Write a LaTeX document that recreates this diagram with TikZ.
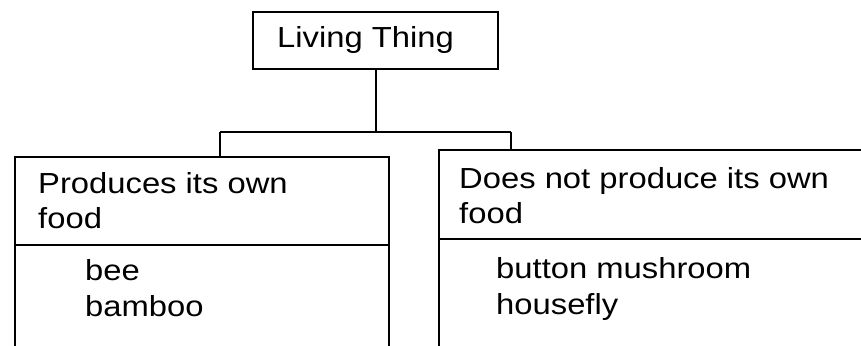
\documentclass[tikz,border=0pt]{standalone}
\usepackage{fontspec}
\setmainfont[FakeStretch=1.13]{Liberation Sans}
\begin{document}
\begin{tikzpicture}[x=1pt,y=-1pt,
  box/.style={draw, line width=1.6pt, rectangle, inner sep=0pt},
  link/.style={line width=1.6pt},
  txt/.style={inner sep=0pt, align=left, font=\fontsize{29}{35}\selectfont},
  items/.style={inner sep=0pt, align=left, font=\fontsize{29}{36}\selectfont}]
\useasboundingbox (0,0) rectangle (861,345);
\clip (0,0) rectangle (861,345);
% top
\node[box, anchor=north west, minimum width=245pt, minimum height=57pt] (top) at (252,11) {};
\node[txt, anchor=base west] (toptext) at (277,48) {Living Thing};
% left
\node[box, anchor=north west, minimum width=374pt, minimum height=88pt] (lhead) at (14,156) {};
\node[txt, anchor=base west] (lheadtext) at (38,228) {Produces its own\\food};
\node[box, anchor=north west, minimum width=374pt, minimum height=130pt] (llist) at (14,244) {};
\node[items, anchor=base west] (llisttext) at (85,316) {bee\\bamboo};
% right
\node[box, anchor=north west, minimum width=440pt, minimum height=89pt] (rhead) at (438,149) {};
\node[txt, anchor=base west] (rheadtext) at (459,223) {Does not produce its own\\food};
\node[box, anchor=north west, minimum width=440pt, minimum height=130pt] (rlist) at (438,238) {};
\node[items, anchor=base west] (rlisttext) at (496,314) {button mushroom\\housefly};
% connectors
\coordinate (jl) at (220,132);
\coordinate (jr) at (511,132);
\draw[link] (top.south -| 376,0) -- (jl -| 376,0);
\draw[link] (jl) -- (jr);
\draw[link] (jl) -- (jl |- lhead.north);
\draw[link] (jr) -- (jr |- rhead.north);
\end{tikzpicture}
\end{document}
